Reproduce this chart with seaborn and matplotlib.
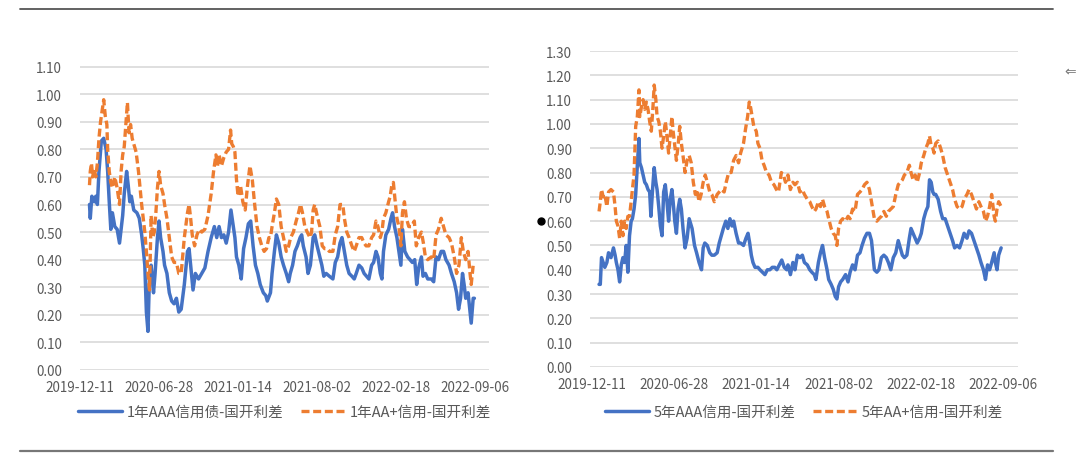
import numpy as np
import pandas as pd
import matplotlib
matplotlib.use("Agg")
import matplotlib.pyplot as plt
import matplotlib.dates as mdates
from matplotlib.lines import Line2D
import seaborn as sns

# ---- data, days counted from 2019-12-11 ----
start_date = "2019-12-11"
tick_step_days = 200

left_aaa_day = [24, 26, 30, 36, 40, 44, 48, 54, 60, 66, 70, 74, 78, 82, 88, 94, 100, 104, 108, 112,
                118, 122, 126, 130, 136, 144, 150, 156, 160, 164, 168, 172, 176, 180, 186, 190, 196, 200, 204, 210,
                214, 220, 226, 232, 238, 244, 250, 256, 264, 272, 276, 280, 286, 292, 300, 308, 316, 324, 332, 340,
                346, 352, 358, 364, 370, 376, 382, 388, 392, 396, 402, 408, 414, 420, 426, 432, 438, 444, 450, 456,
                464, 470, 474,
                482, 486, 492, 497, 503, 509, 515, 522, 528, 532, 538, 544, 550, 557, 561, 565, 572, 577, 583, 590,
                594, 600, 607, 612, 617, 623, 631, 640, 646, 652, 658, 663, 669, 675, 681, 688, 694, 699, 706, 713,
                719, 725, 731, 738, 743, 749, 754, 760, 764, 768, 774, 781, 787, 791, 796, 802, 807, 812, 816, 822,
                829, 835, 841, 847, 852, 857, 864, 868, 874, 880, 889, 895, 901, 907, 914, 920, 926, 934, 940, 947,
                953, 958, 963, 968, 972, 976, 982, 987, 990, 995, 998]
left_aaa = [0.60, 0.55, 0.63, 0.61, 0.63, 0.60, 0.72, 0.83, 0.84, 0.80, 0.72, 0.61, 0.51, 0.57, 0.52, 0.51, 0.46, 0.51, 0.56, 0.64,
            0.72, 0.67, 0.61, 0.63, 0.58, 0.57, 0.55, 0.49, 0.44, 0.38, 0.21, 0.14, 0.35, 0.38, 0.28, 0.35, 0.48, 0.54, 0.48, 0.43,
            0.38, 0.35, 0.28, 0.25, 0.24, 0.26, 0.21, 0.22, 0.31, 0.43, 0.44, 0.38, 0.29, 0.35, 0.33, 0.35, 0.37, 0.43, 0.48, 0.52,
            0.48, 0.52, 0.48, 0.49, 0.46, 0.50, 0.58, 0.52, 0.48, 0.41, 0.38, 0.33, 0.44, 0.48, 0.53, 0.54, 0.45, 0.38, 0.35, 0.31,
            0.28, 0.27, 0.25,
            0.28, 0.35, 0.43, 0.49, 0.46, 0.41, 0.38, 0.35, 0.32, 0.35, 0.38, 0.43, 0.45, 0.48, 0.49, 0.45, 0.41, 0.35, 0.38, 0.48,
            0.49, 0.45, 0.41, 0.38, 0.34, 0.35, 0.34, 0.33, 0.39, 0.41, 0.46, 0.48, 0.43, 0.38, 0.35, 0.34, 0.33, 0.35, 0.38, 0.37,
            0.35, 0.34, 0.33, 0.38, 0.39, 0.43, 0.41, 0.35, 0.33, 0.43, 0.49, 0.51, 0.55, 0.57, 0.52, 0.48, 0.43, 0.38, 0.51, 0.43,
            0.41, 0.40, 0.39, 0.40, 0.31, 0.37, 0.41, 0.34, 0.35, 0.33, 0.33, 0.32, 0.41, 0.40, 0.43, 0.43, 0.40, 0.38, 0.35, 0.32,
            0.28, 0.22, 0.26, 0.35, 0.31, 0.26, 0.28, 0.21, 0.17, 0.26, 0.26]

left_aap_day = [24, 26, 29, 32, 36, 40, 44, 48, 52, 56, 60, 64, 68, 70, 74, 78, 82, 88, 94, 100,
                104, 108, 112, 116, 120, 124, 128, 132, 136, 142, 148, 152, 156, 160, 164, 168, 172, 176, 180, 184,
                188, 192, 196, 200, 204, 210, 214, 220, 226, 232, 238, 244, 250, 256, 264, 272, 276, 280, 284, 290,
                296, 302, 308, 316, 324, 332, 338, 344, 348, 352, 358, 364, 370, 376, 381, 384, 388, 392, 396, 400,
                406, 412, 418, 424, 430, 436, 442, 448, 454, 460, 466, 472, 478,
                482, 486, 492, 497, 503, 509, 515, 522, 528, 533, 540, 547, 553, 558, 563, 569, 575, 582, 586, 590,
                594, 600, 607, 613, 619, 625, 631, 640, 646, 652, 658, 665, 669, 675, 681, 688, 694, 699, 706, 713,
                719, 724, 731, 738, 743, 749, 754, 760, 764, 768, 774, 781, 785, 789, 793, 797, 802, 807, 812, 816,
                821, 826, 832, 839, 846, 851, 857, 864, 869, 874, 880, 889, 895, 901, 907, 914, 920, 926, 934, 940,
                947, 953, 959, 965, 970, 976, 982, 987, 990, 995, 998]
left_aap = [0.67, 0.72, 0.75, 0.70, 0.73, 0.70, 0.75, 0.84, 0.90, 0.94, 0.98, 0.92, 0.89, 0.80, 0.72, 0.68, 0.66, 0.70, 0.66, 0.60,
            0.72, 0.78, 0.81, 0.89, 0.97, 0.86, 0.89, 0.84, 0.82, 0.79, 0.72, 0.66, 0.60, 0.55, 0.50, 0.43, 0.35, 0.29, 0.56, 0.48,
            0.50, 0.57, 0.66, 0.72, 0.67, 0.64, 0.60, 0.55, 0.48, 0.41, 0.39, 0.39, 0.35, 0.35, 0.48, 0.57, 0.60, 0.55, 0.49, 0.45,
            0.49, 0.51, 0.50, 0.51, 0.56, 0.64, 0.72, 0.78, 0.74, 0.78, 0.74, 0.77, 0.79, 0.80, 0.87, 0.82, 0.81, 0.79, 0.69, 0.63,
            0.67, 0.61, 0.58, 0.67, 0.74, 0.69, 0.60, 0.52, 0.48, 0.45, 0.43, 0.44, 0.48,
            0.48, 0.52, 0.57, 0.62, 0.60, 0.52, 0.48, 0.43, 0.45, 0.48, 0.50, 0.54, 0.57, 0.60, 0.57, 0.52, 0.50, 0.48, 0.50, 0.58,
            0.60, 0.56, 0.52, 0.45, 0.44, 0.44, 0.43, 0.43, 0.49, 0.52, 0.60, 0.60, 0.55, 0.50, 0.48, 0.45, 0.43, 0.45, 0.48, 0.48,
            0.46, 0.45, 0.45, 0.48, 0.49, 0.54, 0.52, 0.48, 0.50, 0.55, 0.57, 0.61, 0.63, 0.67, 0.68, 0.62, 0.55, 0.52, 0.45, 0.57,
            0.61, 0.55, 0.52, 0.52, 0.54, 0.45, 0.48, 0.50, 0.46, 0.41, 0.40, 0.41, 0.40, 0.49, 0.51, 0.55, 0.52, 0.49, 0.48, 0.46,
            0.41, 0.35, 0.38, 0.48, 0.43, 0.40, 0.43, 0.35, 0.31, 0.38, 0.39]

right_aaa_day = [18, 21, 24, 28, 32, 37, 41, 47, 53, 57, 60, 64, 68, 72, 76, 80, 84, 88, 92, 96,
                 99, 103, 107, 111, 115, 117, 121, 125, 129, 133, 137, 141, 144, 148, 152, 156, 159, 163, 167, 171,
                 175, 179, 183, 187, 191, 195, 198, 202, 206, 210, 214, 218, 222, 227, 232, 237, 244, 250, 255, 261,
                 267, 271, 275, 281, 287, 292, 298, 305, 310, 315, 320, 326, 331, 336, 341, 345, 351, 357, 362, 369,
                 375, 380, 384, 388, 392, 397, 404, 409, 415, 421, 427, 433, 439, 445, 450, 456, 462, 468, 474,
                 477, 483, 489, 494, 500, 506, 512, 517, 524, 530, 535, 541, 545, 551, 556, 561, 566, 572, 576, 582,
                 587, 592, 596, 600, 605, 610, 617, 623, 628, 634, 640, 646, 652, 657, 663, 669, 675, 680, 687, 693,
                 698, 704, 710, 716, 721, 727, 733, 739, 745, 750, 755, 760, 766, 772, 776, 781, 786, 791, 797, 801,
                 807, 812, 817, 821, 825, 829, 832, 836, 842, 848, 853, 859, 865, 871, 877, 882, 888, 894, 900, 905,
                 912, 917, 923, 929, 935, 941, 946, 952, 957, 962, 967, 972, 978, 981, 985, 989, 995]
right_aaa = [0.34, 0.34, 0.45, 0.43, 0.41, 0.43, 0.47, 0.45, 0.49, 0.46, 0.43, 0.40, 0.35, 0.42, 0.45, 0.43, 0.50, 0.39, 0.54, 0.60,
             0.61, 0.65, 0.71, 0.83, 0.94, 0.84, 0.82, 0.79, 0.76, 0.75, 0.73, 0.72, 0.62, 0.73, 0.82, 0.76, 0.73, 0.66, 0.58, 0.54,
             0.72, 0.75, 0.68, 0.60, 0.69, 0.73, 0.68, 0.60, 0.55, 0.65, 0.69, 0.65, 0.57, 0.49, 0.53, 0.61, 0.57, 0.50, 0.47, 0.43,
             0.40, 0.49, 0.51, 0.50, 0.47, 0.46, 0.46, 0.47, 0.51, 0.54, 0.57, 0.60, 0.57, 0.61, 0.58, 0.60, 0.55, 0.51, 0.51, 0.50,
             0.53, 0.55, 0.51, 0.46, 0.43, 0.41, 0.41, 0.40, 0.39, 0.38, 0.40, 0.40, 0.41, 0.41, 0.40, 0.42, 0.44, 0.41, 0.40,
             0.42, 0.38, 0.43, 0.40, 0.46, 0.45, 0.46, 0.43, 0.42, 0.40, 0.39, 0.38, 0.36, 0.43, 0.47, 0.50, 0.45, 0.40, 0.36, 0.34,
             0.32, 0.29, 0.28, 0.33, 0.35, 0.36, 0.38, 0.35, 0.39, 0.42, 0.40, 0.46, 0.47, 0.50, 0.53, 0.55, 0.55, 0.52, 0.40, 0.39,
             0.40, 0.45, 0.46, 0.45, 0.43, 0.40, 0.45, 0.47, 0.52, 0.49, 0.46, 0.45, 0.46, 0.53, 0.57, 0.55, 0.53, 0.51, 0.53, 0.55,
             0.61, 0.64, 0.66, 0.77, 0.76, 0.72, 0.71, 0.71, 0.69, 0.64, 0.61, 0.61, 0.58, 0.55, 0.52, 0.49, 0.50, 0.49, 0.52, 0.55,
             0.53, 0.56, 0.55, 0.52, 0.49, 0.46, 0.43, 0.40, 0.36, 0.42, 0.40, 0.43, 0.47, 0.43, 0.40, 0.46, 0.49]

right_aap_day = [18, 21, 24, 28, 32, 37, 41, 47, 53, 57, 60, 64, 68, 72, 76, 80, 84, 88, 92, 96,
                 99, 103, 107, 111, 115, 117, 121, 125, 129, 133, 137, 141, 145, 149, 152, 156, 159, 163, 167, 171,
                 175, 179, 183, 187, 191, 195, 198, 202, 206, 210, 214, 218, 222, 227, 232, 237, 242, 247, 252, 256,
                 261, 266, 271, 276, 281, 287, 292, 298, 305, 310, 315, 322, 327, 333, 339, 345, 351, 357, 362, 369,
                 374, 379, 383, 386, 390, 394, 400, 404, 409, 414, 419, 425, 431, 437, 443, 449, 454, 461, 466, 471,
                 477, 483, 489, 494, 500, 506, 512, 517, 524, 530, 535, 541, 545, 551, 556, 561, 566, 572, 576, 582,
                 587, 592, 596, 600, 605, 610, 617, 623, 628, 634, 640, 646, 652, 657, 663, 669, 675, 680, 687, 693,
                 698, 704, 710, 716, 721, 727, 733, 739, 745, 750, 755, 760, 766, 772, 776, 781, 786, 791, 797, 801,
                 807, 812, 817, 821, 825, 829, 832, 836, 842, 848, 853, 859, 865, 871, 877, 882, 888, 894, 900, 905,
                 912, 917, 923, 929, 935, 941, 946, 952, 957, 962, 967, 972, 978, 981, 985, 989, 995]
right_aap = [0.64, 0.68, 0.73, 0.70, 0.71, 0.66, 0.72, 0.73, 0.72, 0.66, 0.60, 0.58, 0.53, 0.60, 0.54, 0.60, 0.57, 0.62, 0.62, 0.68,
             0.73, 0.79, 0.99, 1.03, 1.14, 1.03, 1.07, 1.10, 1.06, 1.09, 1.06, 1.01, 0.97, 1.07, 1.16, 1.10, 1.03, 1.01, 0.97, 0.90,
             0.95, 1.01, 0.95, 0.88, 0.95, 1.03, 0.97, 0.91, 0.85, 0.91, 0.99, 0.92, 0.87, 0.80, 0.85, 0.87, 0.84, 0.76, 0.71, 0.73,
             0.68, 0.71, 0.76, 0.79, 0.76, 0.72, 0.71, 0.68, 0.71, 0.72, 0.73, 0.72, 0.76, 0.80, 0.80, 0.85, 0.87, 0.84, 0.88, 0.92,
             0.98, 1.03, 1.09, 1.07, 1.03, 0.99, 0.97, 0.92, 0.90, 0.85, 0.83, 0.80, 0.79, 0.76, 0.75, 0.73, 0.72, 0.80, 0.79, 0.76,
             0.79, 0.73, 0.76, 0.75, 0.76, 0.72, 0.73, 0.71, 0.69, 0.68, 0.66, 0.64, 0.65, 0.68, 0.66, 0.69, 0.66, 0.64, 0.61, 0.57,
             0.55, 0.54, 0.50, 0.57, 0.60, 0.61, 0.60, 0.62, 0.61, 0.65, 0.64, 0.71, 0.72, 0.73, 0.75, 0.76, 0.73, 0.68, 0.61, 0.60,
             0.61, 0.62, 0.64, 0.62, 0.64, 0.65, 0.66, 0.71, 0.75, 0.76, 0.77, 0.79, 0.80, 0.83, 0.80, 0.77, 0.79, 0.76, 0.80, 0.84,
             0.87, 0.90, 0.92, 0.95, 0.91, 0.90, 0.88, 0.92, 0.93, 0.90, 0.87, 0.82, 0.79, 0.76, 0.73, 0.69, 0.66, 0.65, 0.66, 0.69,
             0.71, 0.73, 0.71, 0.68, 0.65, 0.68, 0.66, 0.64, 0.60, 0.62, 0.66, 0.71, 0.62, 0.60, 0.65, 0.68, 0.66]

left_labels = ["1年AAA信用债-国开利差", "1年AA+信用-国开利差"]
right_labels = ["5年AAA信用-国开利差", "5年AA+信用-国开利差"]

BLUE = "#4472C4"
ORANGE = "#ED7D31"
GRID = "#D9D9D9"
TEXT = "#595959"

sns.set_theme(style="white")
plt.rcParams["font.family"] = ["Noto Sans CJK SC", "DejaVu Sans"]

base = pd.Timestamp(start_date)


def to_dates(days):
    return base + pd.to_timedelta(days, unit="D")


fig = plt.figure(figsize=(10.8, 4.6), dpi=100)
ax_l = fig.add_axes([80 / 1080, 89 / 460, 409 / 1080, 331 / 460])
ax_r = fig.add_axes([590 / 1080, 92 / 460, 428 / 1080, 316 / 460])


def draw(ax, d1, v1, d2, v2, labels, ymax, yticks, xlim, leg_y):
    sns.lineplot(x=to_dates(d1), y=v1, ax=ax, color=BLUE, lw=2.5, label=labels[0])
    sns.lineplot(x=to_dates(d2), y=v2, ax=ax, color=ORANGE, lw=2.4,
                 linestyle=(0, (2.4, 1.1)), label=labels[1])
    ax.set_ylim(0, ymax)
    ax.set_yticks(yticks)
    ax.set_yticklabels([f"{t:.2f}" for t in yticks])
    ax.set_xlim(to_dates([xlim[0]])[0], to_dates([xlim[1]])[0])
    ax.set_xticks(to_dates([tick_step_days * k for k in range(6)]))
    ax.xaxis.set_major_formatter(mdates.DateFormatter("%Y-%m-%d"))
    ax.grid(axis="y", color=GRID, lw=1.2)
    ax.set_axisbelow(True)
    for s in ax.spines.values():
        s.set_visible(False)
    ax.tick_params(axis="y", length=0, pad=13, labelsize=9.7, labelcolor=TEXT)
    ax.tick_params(axis="x", length=0, pad=7, labelsize=9.7, labelcolor=TEXT)
    ax.set_xlabel("")
    ax.set_ylabel("")
    ax.legend(loc="center", bbox_to_anchor=(0.5, leg_y), ncol=2, frameon=False,
              fontsize=10.5, labelcolor=TEXT, handlelength=3.0, handletextpad=0.35,
              columnspacing=1.2)


yt_l = np.round(np.arange(0, 1.101, 0.1), 2)
yt_r = np.round(np.arange(0, 1.301, 0.1), 2)
draw(ax_l, left_aaa_day, left_aaa, left_aap_day, left_aap, left_labels, 1.2, yt_l, (0, 1035), -0.127)
draw(ax_r, right_aaa_day, right_aaa, right_aap_day, right_aap, right_labels, 1.3, yt_r, (-4, 1036), -0.142)

# frame lines and small marks of the screenshot
fig.add_artist(Line2D([20 / 1080, 1053 / 1080], [1 - 10 / 460, 1 - 10 / 460], color="#555555", lw=1.3))
fig.add_artist(Line2D([20 / 1080, 1053 / 1080], [1 - 452 / 460, 1 - 452 / 460], color="#777777", lw=1.6))
fig.add_artist(Line2D([541 / 1080], [1 - 222 / 460], marker="o", ms=5, color="black", lw=0))
fig.text(1064 / 1080, 1 - 72 / 460, "⇐", fontsize=10, color="#777777", va="center", ha="left",
         family=["DejaVu Sans"])

fig.savefig("out.png", dpi=100)
